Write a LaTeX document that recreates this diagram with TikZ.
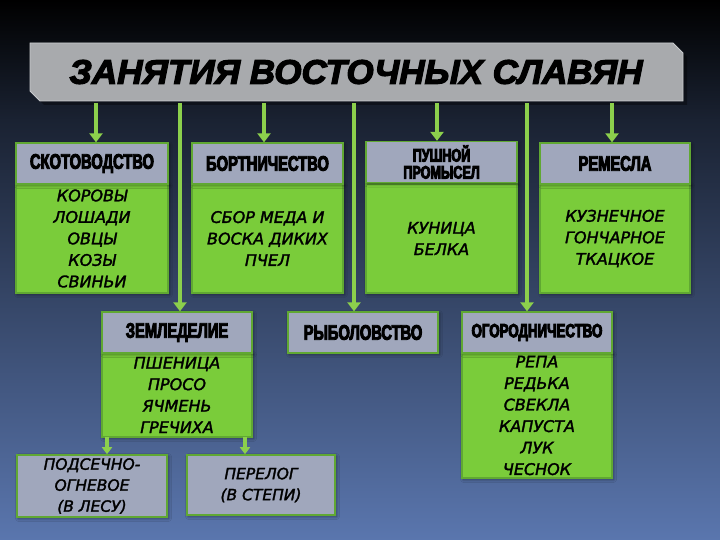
\documentclass[tikz,border=0pt]{standalone}
\usepackage{fontspec}
\usetikzlibrary{arrows.meta,shadows.blur}
\newfontfamily\titlefont[FakeStretch=1.03]{Liberation Sans}
\newfontfamily\headfont[FakeStretch=0.7]{Liberation Sans}
\newfontfamily\bodyfont{DejaVu Sans}
\definecolor{hdr}{RGB}{160,167,188}
\definecolor{grn}{RGB}{122,204,58}
\definecolor{edge}{RGB}{96,168,50}
\definecolor{arw}{RGB}{140,208,76}
\definecolor{ttl}{RGB}{168,170,173}
\definecolor{ttledge}{RGB}{200,202,205}
\definecolor{bgtop}{RGB}{0,0,0}
\definecolor{bgmid}{RGB}{26,34,50}
\definecolor{bgbot}{RGB}{90,118,174}
\tikzset{
  heavy/.style={execute at begin node={\special{pdf:literal direct 0 G 2 Tr #1 w}},
                execute at end node={\special{pdf:literal direct 0 Tr}}},
  shad/.style={blur shadow={shadow xshift=1.5pt,shadow yshift=-1.5pt,shadow blur radius=3pt,shadow opacity=45}},
  hdrbox/.style={shad,draw=edge,line width=1.3pt,fill=hdr,inner sep=0pt,minimum height=41pt,align=center,
    font=\headfont\bfseries\fontsize{21}{21}\selectfont,text=black,heavy=0.9},
  bodybox/.style={shad,draw=edge,line width=1.3pt,fill=grn,inner sep=0pt,align=center,
    font=\bodyfont\itshape\fontsize{16}{21.5}\selectfont,text=black,heavy=0.3},
  subbox/.style={shad,draw=edge,line width=1.6pt,fill=hdr,inner sep=0pt,align=center,
    font=\bodyfont\itshape\fontsize{15.5}{21}\selectfont,text=black,heavy=0.3},
  arr/.style={draw=arw,line width=4.5pt,-{Triangle[width=13pt,length=9pt]}}
}
\begin{document}
\begin{tikzpicture}[x=1pt,y=-1pt]
\useasboundingbox (0,0) rectangle (720,540);
\shade[top color=bgtop,bottom color=bgmid] (0,0) rectangle (720,120.5);
\shade[top color=bgmid,bottom color=bgbot] (0,120) rectangle (720,540);
% title
\fill[black,opacity=0.35] (33,46) -- (676,46) -- (687,57) -- (687,105) -- (44,105) -- (33,94) -- cycle;
\filldraw[fill=ttl,draw=ttledge,line width=0.8pt] (30,43) -- (673,43) -- (683,53) -- (683,101) -- (40,101) -- (30,91) -- cycle;
\node[inner sep=0pt,minimum width=653pt,minimum height=58pt,heavy=1.2,font=\titlefont\bfseries\itshape\fontsize{34}{38}\selectfont] (t) at (356,72) {ЗАНЯТИЯ ВОСТОЧНЫХ СЛАВЯН};
% row 1 bodies
\node[bodybox,minimum width=152pt,minimum height=109pt] (b1) at (92,238.5) {КОРОВЫ\\ЛОШАДИ\\ОВЦЫ\\КОЗЫ\\СВИНЬИ};
\node[bodybox,minimum width=151pt,minimum height=109pt] (b2) at (267.5,238.5) {СБОР МЕДА И\\ВОСКА ДИКИХ\\ПЧЕЛ};
\node[bodybox,minimum width=151pt,minimum height=109pt] (b3) at (441.5,238.5) {КУНИЦА\\БЕЛКА};
\node[bodybox,minimum width=150pt,minimum height=109pt] (b4) at (615,238.5) {КУЗНЕЧНОЕ\\ГОНЧАРНОЕ\\ТКАЦКОЕ};
% row 1 headers
\node[hdrbox,minimum width=152pt] (h1) at (92,163.5) {СКОТОВОДСТВО};
\node[hdrbox,minimum width=151pt] (h2) at (267.5,163.5) {БОРТНИЧЕСТВО};
\node[hdrbox,minimum width=151pt,font=\headfont\bfseries\fontsize{18}{17}\selectfont] (h3) at (441.5,162) {ПУШНОЙ\\ПРОМЫСЕЛ};
\node[hdrbox,minimum width=150pt] (h4) at (615,163.5) {РЕМЕСЛА};
% row 2
\node[bodybox,minimum width=150pt,minimum height=84pt] (b5) at (177,395) {ПШЕНИЦА\\ПРОСО\\ЯЧМЕНЬ\\ГРЕЧИХА};
\node[bodybox,minimum width=150pt,minimum height=125pt] (b7) at (537,415.5) {РЕПА\\РЕДЬКА\\СВЕКЛА\\КАПУСТА\\ЛУК\\ЧЕСНОК};
\node[hdrbox,minimum width=150pt] (h5) at (177,332.5) {ЗЕМЛЕДЕЛИЕ};
\node[hdrbox,minimum width=150pt] (h6) at (363,332.5) {РЫБОЛОВСТВО};
\node[hdrbox,minimum width=150pt,font=\headfont\bfseries\fontsize{19}{20}\selectfont] (h7) at (537,332.5) {ОГОРОДНИЧЕСТВО};
% row 3
\node[subbox,minimum width=150pt,minimum height=62pt] (p1) at (92,486) {ПОДСЕЧНО-\\ОГНЕВОЕ\\(В ЛЕСУ)};
\node[subbox,minimum width=148pt,minimum height=60pt] (p2) at (261,485) {ПЕРЕЛОГ\\(В СТЕПИ)};
% connectors from title
\coordinate (s1) at (96,103);
\coordinate (s2) at (180,103);
\coordinate (s3) at (264,103);
\coordinate (s4) at (354,103);
\coordinate (s5) at (437,103);
\coordinate (s6) at (527,103);
\coordinate (s7) at (612,103);
\draw[arr] (s1) -- (s1 |- h1.north);
\draw[arr] (s2) -- (s2 |- h5.north);
\draw[arr] (s3) -- (s3 |- h2.north);
\draw[arr] (s4) -- (s4 |- h6.north);
\draw[arr] (s5) -- (s5 |- h3.north);
\draw[arr] (s6) -- (s6 |- h7.north);
\draw[arr] (s7) -- (s7 |- h4.north);
% connectors from ЗЕМЛЕДЕЛИЕ
\coordinate (z1) at (107,437);
\coordinate (z2) at (245,437);
\draw[arr,line width=3.5pt,-{Triangle[width=10pt,length=7pt]}] (z1) -- (z1 |- p1.north);
\draw[arr,line width=3.5pt,-{Triangle[width=10pt,length=7pt]}] (z2) -- (z2 |- p2.north);
\end{tikzpicture}
\end{document}
